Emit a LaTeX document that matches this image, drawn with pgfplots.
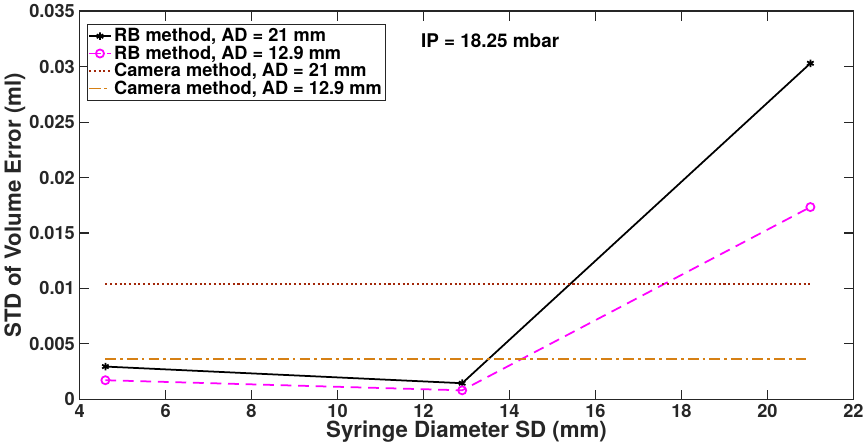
\documentclass[border=0pt]{standalone}
\usepackage{fontspec}
\setmainfont{TeX Gyre Heros}
\usepackage{pgfplots}
\pgfplotsset{compat=1.18}
\definecolor{mlbrown}{RGB}{162,40,10}
\definecolor{mlorange}{RGB}{214,128,20}
\definecolor{mlmagenta}{RGB}{255,0,255}
\definecolor{axgray}{RGB}{38,38,38}
\begin{document}
\begin{tikzpicture}
\begin{axis}[
    scale only axis,
    width=574pt, height=288pt,
    xmin=4, xmax=22, ymin=0, ymax=0.035,
    xtick={4,6,...,22},
    ytick={0,0.005,...,0.035},
    scaled y ticks=false,
    yticklabel style={/pgf/number format/fixed, /pgf/number format/precision=3},
    /pgf/number format/assume math mode=true,
    tick label style={font=\fontsize{13.5}{16}\selectfont\bfseries, text=axgray},
    label style={font=\fontsize{16.5}{19}\selectfont\bfseries, text=axgray},
    xlabel={Syringe Diameter SD (mm)},
    ylabel={STD of Volume Error (ml)},
    xlabel style={yshift=4pt},
    ylabel style={yshift=-4pt},
    axis line style={axgray, line width=1pt},
    tick style={axgray, line width=0.8pt},
    tick align=inside,
    major tick length=7pt,
    legend cell align=left,
    legend style={at={(0.009,0.967)}, anchor=north west,
        font=\fontsize{13.5}{15}\selectfont\bfseries,
        draw=axgray, line width=0.8pt, inner sep=1pt,
        row sep=-2.5pt},
    legend image post style={line width=1.2pt},
    legend image code/.code={
        \draw[mark repeat=2,mark phase=2] plot coordinates {(0cm,0cm) (0.28cm,0cm) (0.56cm,0cm)};
    },
]
\addplot[black, line width=1.3pt, mark=asterisk, mark size=2.8pt,
    mark options={line width=1.3pt}]
    coordinates {(4.6,0.00296) (12.9,0.00146) (21,0.0303)};
\addlegendentry{RB method, AD = 21 mm}
\addplot[mlmagenta, line width=1.3pt, dash pattern=on 8pt off 5pt,
    mark=o, mark size=3pt, mark options={solid, line width=1.3pt}]
    coordinates {(4.6,0.00173) (12.9,0.00082) (21,0.01734)};
\addlegendentry{RB method, AD = 12.9 mm}
\addplot[mlbrown, line width=1.2pt, dash pattern=on 1.5pt off 2pt]
    coordinates {(4.6,0.0104) (21,0.0104)};
\addlegendentry{Camera method, AD = 21 mm}
\addplot[mlorange, line width=1.3pt, dash pattern=on 8pt off 3pt on 2pt off 3pt]
    coordinates {(4.6,0.00365) (21,0.00365)};
\addlegendentry{Camera method, AD = 12.9 mm}
\node[font=\fontsize{14}{16}\selectfont\bfseries, text=black] at (axis cs:13.55,0.0323) {IP = 18.25 mbar};
\end{axis}
\end{tikzpicture}
\end{document}
